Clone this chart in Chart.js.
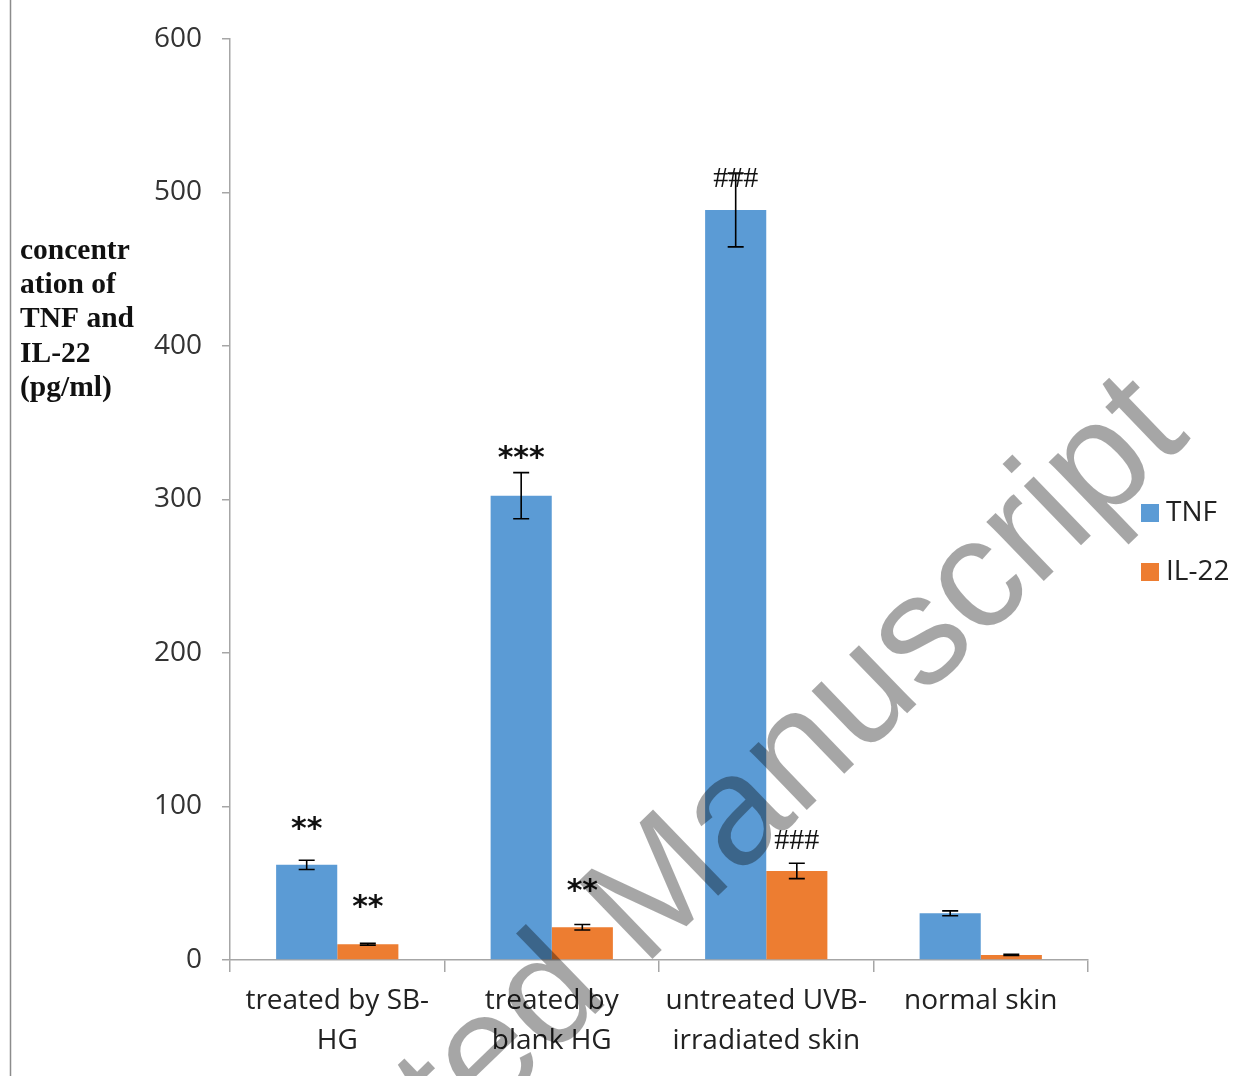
<!DOCTYPE html>
<html>
<head>
<meta charset="utf-8">
<title>TNF and IL-22 concentration</title>
<script src="https://cdn.jsdelivr.net/npm/chart.js@4.4.1/dist/chart.umd.min.js"></script>
<style>
  html, body { margin: 0; padding: 0; background: #ffffff; }
  #wrap { position: relative; width: 1248px; height: 1076px; }
</style>
</head>
<body>
<div id="wrap"><canvas id="chart"></canvas></div>
<script>
// Groups on the x axis (multi-line labels)
const categories = [
  ["treated by SB-", "HG"],
  ["treated by", "blank HG"],
  ["untreated UVB-", "irradiated skin"],
  ["normal skin"]
];

// Mean concentrations (pg/ml)
const tnfValues  = [62, 302.5, 488.6, 30.4];
const il22Values = [10.2, 21.3, 58, 3.3];

// Error bar half-lengths (pg/ml)
const tnfErrors  = [3, 15, 24, 1.6];
const il22Errors = [0.6, 1.8, 5, 0.4];

// Significance marks above each bar
const tnfMarks  = ["**", "***", "###", ""];
const il22Marks = ["**", "**", "###", ""];

// Y axis ticks
const yTicks = [0, 100, 200, 300, 400, 500, 600];

const yTitleLines = ["concentr", "ation of", "TNF and", "IL-22", "(pg/ml)"];

const BLUE = "#5B9BD5";
const ORANGE = "#ED7D31";
const AXIS = "#a6a6a6";

// Draws whiskers and significance marks for each bar
const errorBarsPlugin = {
  id: "errorBars",
  afterDatasetsDraw(chart) {
    const { ctx, scales } = chart;
    const y = scales.y;
    const errs = [tnfErrors, il22Errors];
    const marks = [tnfMarks, il22Marks];
    // vertical offset of each mark from its whisker top (px)
    const markShift = [[-35, -18, 6, 0], [-40, -37, -22, 0]];
    chart.data.datasets.forEach((ds, di) => {
      const meta = chart.getDatasetMeta(di);
      meta.data.forEach((bar, i) => {
        const v = ds.data[i];
        const e = errs[di][i];
        const top = y.getPixelForValue(v + e);
        const bot = y.getPixelForValue(v - e);
        const x = bar.x;
        ctx.save();
        ctx.strokeStyle = "#000";
        ctx.lineWidth = 1.6;
        ctx.beginPath();
        ctx.moveTo(x, top); ctx.lineTo(x, bot);
        ctx.moveTo(x - 8, top); ctx.lineTo(x + 8, top);
        ctx.moveTo(x - 8, bot); ctx.lineTo(x + 8, bot);
        ctx.stroke();
        const m = marks[di][i];
        if (m) {
          ctx.fillStyle = "#111";
          ctx.textAlign = "center";
          ctx.textBaseline = "middle";
          const isHash = m.startsWith("#");
          ctx.font = isHash ? "30px 'Liberation Serif', serif" : "bold 30px 'DejaVu Sans', sans-serif";
          const yy = top + markShift[di][i] + (isHash ? 0 : 5);
          ctx.fillText(m, x, yy);
        }
        ctx.restore();
      });
    });
  }
};

// Axis title, legend, frame line and overlay text
const decorPlugin = {
  id: "decor",
  afterDraw(chart) {
    const { ctx } = chart;
    ctx.save();
    // left frame line
    ctx.strokeStyle = "#8c8c8c";
    ctx.lineWidth = 1.5;
    ctx.beginPath();
    ctx.moveTo(10.5, 0); ctx.lineTo(10.5, 1076);
    ctx.stroke();

    // y axis title, horizontal bold serif block
    ctx.fillStyle = "#111";
    ctx.font = "bold 29.5px 'Liberation Serif', serif";
    ctx.textAlign = "left";
    ctx.textBaseline = "middle";
    yTitleLines.forEach((t, i) => ctx.fillText(t, 20, 251 + i * 34.3));

    // legend
    const items = [["TNF", BLUE], ["IL-22", ORANGE]];
    ctx.font = "28px 'Open Sans', sans-serif";
    items.forEach(([label, col], i) => {
      const cy = 513 + i * 59;
      ctx.fillStyle = col;
      ctx.fillRect(1141, cy - 9, 18, 18);
      ctx.fillStyle = "#222";
      ctx.fillText(label, 1166, cy);
    });

    // overlay watermark
    ctx.translate(1192, 438);
    ctx.rotate(-44 * Math.PI / 180);
    ctx.font = "156px 'Liberation Sans', Arial, sans-serif";
    ctx.fillStyle = "rgba(0,0,0,0.35)";
    ctx.textAlign = "right";
    ctx.textBaseline = "alphabetic";
    ctx.fillText("Accepted Manuscript", 0, 0);
    ctx.restore();
  }
};

new Chart(document.getElementById("chart"), {
  type: "bar",
  data: {
    labels: categories,
    datasets: [
      { label: "TNF", data: tnfValues, backgroundColor: BLUE },
      { label: "IL-22", data: il22Values, backgroundColor: ORANGE }
    ]
  },
  options: {
    responsive: true,
    maintainAspectRatio: false,
    animation: false,
    layout: { padding: { left: 0, right: 160, top: 39, bottom: 0 } },
    datasets: { bar: { categoryPercentage: 0.57, barPercentage: 1.0 } },
    plugins: { legend: { display: false }, tooltip: { enabled: false } },
    scales: {
      x: {
        grid: { offset: true, drawOnChartArea: false, drawTicks: true, tickLength: 12, color: AXIS, lineWidth: 1.5 },
        border: { color: AXIS, width: 1.5 },
        ticks: {
          color: "#222",
          font: { family: "'Open Sans', sans-serif", size: 28, lineHeight: 1.43 },
          padding: 9,
          maxRotation: 0,
          autoSkip: false
        },
        afterFit(scale) { scale.height = 116; }
      },
      y: {
        min: 0,
        max: 600,
        afterBuildTicks(scale) { scale.ticks = yTicks.map(v => ({ value: v })); },
        grid: { drawOnChartArea: false, drawTicks: true, tickLength: 8, color: AXIS, lineWidth: 1.5 },
        border: { color: AXIS, width: 1.5 },
        ticks: {
          color: "#333",
          font: { family: "'Open Sans', sans-serif", size: 28 },
          padding: 20
        },
        afterFit(scale) { scale.width = 230; }
      }
    }
  },
  plugins: [errorBarsPlugin, decorPlugin]
});
</script>
</body>
</html>
